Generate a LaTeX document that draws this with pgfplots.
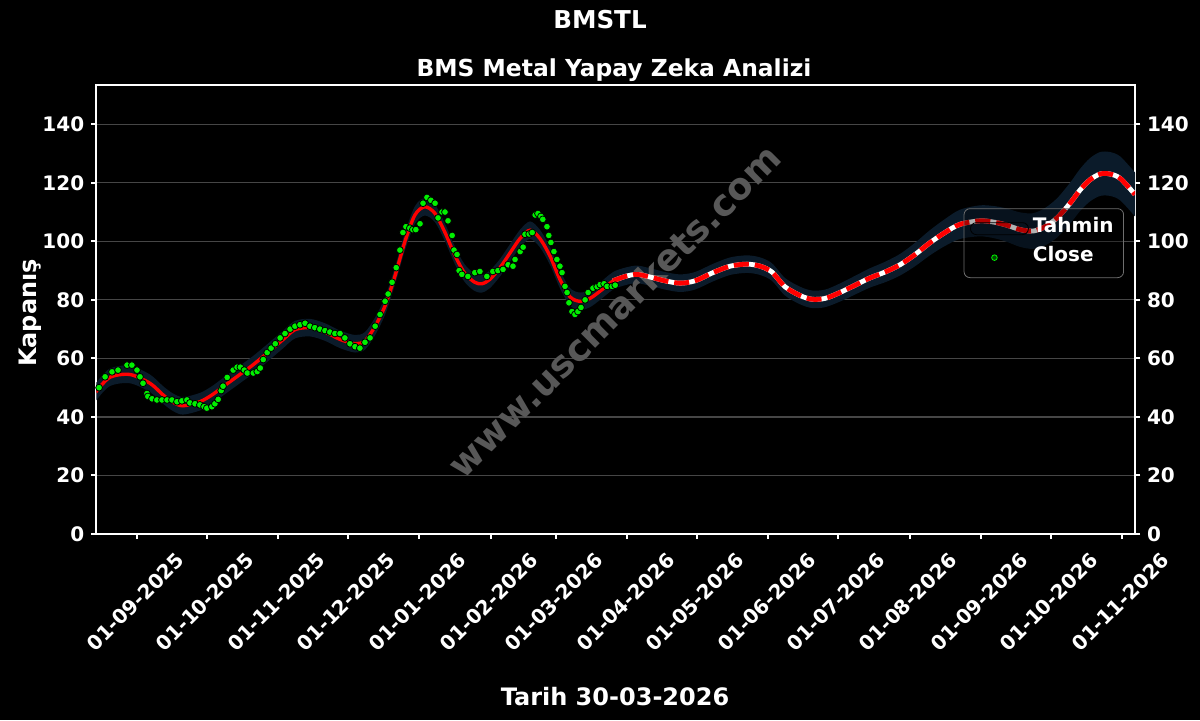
\documentclass[border=0pt]{standalone}
\usepackage{fontspec}
\setmainfont{DejaVu Sans}
\usepackage{pgfplots}
\usepackage{pgfplotstable}
\pgfplotsset{compat=1.18}
\usepgfplotslibrary{fillbetween}

\definecolor{bandblue}{RGB}{11,27,42}
\definecolor{closegreen}{RGB}{0,240,0}
\definecolor{gridgray}{RGB}{70,70,70}
\definecolor{wmgray}{RGB}{88,88,88}
\definecolor{leggray}{RGB}{110,110,110}

\pgfplotstableread{
x t lo hi
-17.9 48.5 45.5 51.5
-11.9 53.5 50.5 56.5
-3.2 54.5 51.5 57.5
5.5 51.5 48.5 54.5
11.2 47.5 44.5 50.5
15.5 45 42 48
19.8 43.8 40.8 46.8
27.1 45.2 42.2 48.2
32.3 47.5 44.5 50.5
37.1 50.3 47.3 53.3
44.4 54.5 51.5 57.5
49.6 57.5 54.5 60.5
54.4 60.6 57.6 63.6
58.7 63.5 60.5 66.5
63.0 66.4 63.4 69.4
68.2 69.8 66.8 72.8
74.7 70.5 67.5 73.5
81.2 69 66 72
87.7 66.5 63.5 69.5
94.2 65 62 68
98.5 66 63 69
102.9 71 68 74
107.2 78 75 81
111.4 88 85 91
115.8 100 97 103
120.1 109 106 112
124.4 111.8 108.8 114.8
128.8 109.5 106.5 112.5
133.1 103 100 106
137.5 95 92 98
141.7 89 86 92
146.0 86 83 89
149.1 85.5 82.5 88.5
152.5 87 84 90
156.9 91 88 94
161.2 96 93 99
165.6 101 98 104
169.9 103.8 100.8 106.8
174.1 101 98 104
178.5 95 92 98
182.8 87 84 90
187.2 81 78 84
191.5 79.5 76.5 82.5
195.8 80.5 77.5 83.5
200.2 83 80 86
205.8 86.5 83.5 89.5
211.0 88 85 91
216.1 88.7 85.7 91.7
221.8 87.8 84.8 90.8
228.3 86.5 83.5 89.5
234.8 85.7 82.7 88.7
241.2 86.5 83.5 89.5
249.0 89.3 86.3 92.3
256.4 91.5 88.5 94.5
263.7 92.2 89.2 95.2
269.4 91.5 88.5 94.5
274.5 89.5 86.5 92.5
280.1 84.5 81.5 87.5
286.6 81.5 78.5 84.5
291.8 80.2 77.2 83.2
297.5 80.5 77.5 83.5
303.9 82.5 79.4 85.6
310.4 85 81.8 88.2
316.9 87.5 84.2 90.8
323.4 89.5 86 93
329.9 92 88.3 95.7
336.4 95.5 91.5 99.5
342.8 99.5 95.2 103.8
349.3 103 98.4 107.6
355.8 105.8 100.8 110.8
364.5 107 101.7 112.3
370.9 106.5 101 112
376.1 105.5 99.8 111.2
381.8 104 98.1 109.9
387.4 103.5 97.4 109.6
392.6 105 98.6 111.4
397.8 108 101.3 114.7
403.4 113 106 120
407.7 117.5 110.3 124.7
412.0 121 113.6 128.4
416.4 123 115.5 130.5
420.7 123 115.5 130.5
425.1 121.5 114 129
431.5 116 108.5 123.5
}\tahmin

\pgfplotstableread{
x y
-17.9 47
-16.5 50
-13.9 53.7
-10.9 55.4
-8.3 56
-4.4 57.7
-2.3 57.7
-0.1 56
1.2 53.7
2.5 51.5
4.2 48
4.6 47
6.4 46.2
8.5 45.8
10.7 45.8
12.9 45.8
15.0 45.8
17.2 45.2
19.3 45.5
21.5 45.8
22.8 44.8
25.0 44.5
27.1 44.1
28.9 43.5
30.1 43
32.3 43.5
33.6 44.5
35.0 46
36.3 49
37.1 50.5
38.9 53.5
41.5 56
43.2 57
44.6 57
46.3 56
47.6 55
50.2 55
51.9 55.5
53.2 56.7
54.5 59.6
56.2 62
57.9 63.5
59.7 65
61.8 67
63.9 68.5
66.1 70
68.2 71
70.4 71.5
72.6 72
74.7 71
76.8 70.5
79.0 70
81.2 69.5
83.3 69
85.5 68.5
87.7 68.5
89.8 67
92.0 65
94.2 64
96.3 63.5
98.5 65.5
100.7 67
102.9 71
105.0 75
107.2 79.5
108.5 82
110.2 86
112.0 91
113.6 97
114.9 103
116.2 105
117.9 104.5
119.2 104
120.5 104
122.3 106
123.6 113
125.3 115
127.0 114
128.8 113
130.1 108
131.8 110
133.1 110
134.4 107
136.2 102
137.0 97
138.3 95.5
139.2 90
140.4 88.7
143.0 88
146.0 89.3
148.2 89.7
151.2 88
153.8 89.7
156.0 90
158.2 90.4
160.4 92
162.5 91.5
163.4 93.8
165.6 96.5
166.9 98
167.7 102.4
169.5 102.5
170.8 103
172.1 109
173.3 109.5
174.6 108.5
175.4 107.5
177.2 105
178.0 102
178.9 99.6
180.2 96.5
181.5 93.8
182.8 91.5
183.7 89.3
185.0 84.6
185.9 82.5
186.7 79
188.0 76
189.3 75
190.6 76
191.9 77.4
193.7 80
195.0 82.5
197.1 84
198.9 84.5
200.2 85.2
201.9 85.5
203.2 84.6
205.4 84.6
206.7 85
}\closetab

\pagecolor{black}
\begin{document}
\begin{tikzpicture}
\path (0,0) rectangle (600pt,360pt);

\node[rotate=45, text=wmgray, font=\bfseries\fontsize{18.4}{20}\selectfont] at (307pt,204.5pt) {www.uscmarkets.com};

\begin{axis}[
  at={(48.15pt,93pt)}, anchor=south west,
  scale only axis, width=519.35pt, height=224.35pt,
  xmin=-17.7, xmax=431.5, ymin=0, ymax=153.3,
  axis line style={white, line width=1pt},
  tick style={white, line width=1pt},
  tick align=outside, major tick length=2.5pt,
  xtick pos=bottom, ytick pos=both, yticklabel pos=left,
  xtick={0,30,61,91,122,153,181,212,242,273,303,334,365,395,426},
  xticklabels={01-09-2025,01-10-2025,01-11-2025,01-12-2025,01-01-2026,01-02-2026,01-03-2026,01-04-2026,01-05-2026,01-06-2026,01-07-2026,01-08-2026,01-09-2026,01-10-2026,01-11-2026},
  ytick={0,20,40,60,80,100,120,140},
  ymajorgrids, grid style={line width=0.6pt, gridgray},
  /pgf/number format/assume math mode=true,
  ticklabel style={font=\bfseries\fontsize{10}{12}\selectfont, text=white},
  xticklabel style={rotate=45, anchor=center, xshift=-23pt, yshift=-21.6pt},
  legend style={
    at={(0.9894,0.726)}, anchor=north east,
    fill=black, fill opacity=0.3, draw opacity=1, text opacity=1,
    draw=leggray, rounded corners=3pt,
    text=white, font=\bfseries\fontsize{10}{12}\selectfont,
    inner xsep=3pt, inner ysep=3.5pt, row sep=1.5pt,
    nodes={inner sep=2pt, text height=6.5pt, text depth=2.5pt},
  },
  legend cell align=left,
]
\addlegendimage{legend image code/.code={\path (0pt,-3pt) rectangle (29pt,3pt);}}
\addlegendentry{Tahmin}
\addlegendimage{legend image code/.code={\path (0pt,-3pt) rectangle (29pt,3pt); \fill[closegreen] (12pt,0pt) circle (1.4pt);}}
\addlegendentry{Close}

\addplot[name path=U, draw=none, smooth, forget plot] table[x=x, y=hi] {\tahmin};
\addplot[name path=L, draw=none, smooth, forget plot] table[x=x, y=lo] {\tahmin};
\addplot[fill=bandblue, draw=none, forget plot] fill between[of=U and L];

\addplot[red, line width=1.7pt, smooth, forget plot, restrict x to domain=-20:205.9] table[x=x, y=t] {\tahmin};
\addplot[white, line width=2.4pt, smooth, forget plot, restrict x to domain=205.7:440] table[x=x, y=t] {\tahmin};
\addplot[red, line width=2.4pt, smooth, dash pattern=on 7.5pt off 3pt, forget plot, restrict x to domain=205.7:440] table[x=x, y=t] {\tahmin};

\addplot[only marks, mark=*, mark size=1.7pt, mark options={draw=none, fill=closegreen}, forget plot] table[x=x, y=y] {\closetab};
\end{axis}

\begin{axis}[
  at={(48.15pt,93pt)}, anchor=south west,
  scale only axis, width=519.35pt, height=224.35pt,
  xmin=-17.7, xmax=431.5, ymin=0, ymax=153.3,
  axis line style={draw=none},
  hide x axis,
  tick style={white, line width=1pt},
  tick align=outside, major tick length=2.5pt,
  ytick pos=right, yticklabel pos=right,
  ytick={0,20,40,60,80,100,120,140},
  /pgf/number format/assume math mode=true,
  ticklabel style={font=\bfseries\fontsize{10}{12}\selectfont, text=white},
]
\addplot[draw=none] coordinates {(0,0)};
\end{axis}

\node[anchor=base, text=white, font=\bfseries\fontsize{12.3}{14}\selectfont] at (300pt,345.75pt) {BMSTL};
\node[anchor=base, text=white, font=\bfseries\fontsize{11.7}{14}\selectfont] at (307pt,322pt) {BMS Metal Yapay Zeka Analizi};
\node[anchor=base, text=white, font=\bfseries\fontsize{12}{14}\selectfont] at (307.5pt,7.5pt) {Tarih 30-03-2026};
\node[anchor=base, rotate=90, text=white, font=\bfseries\fontsize{12}{14}\selectfont] at (18pt,203.5pt) {Kapanış};
\pgfresetboundingbox
\useasboundingbox (0,0) rectangle (600pt,360pt);
\end{tikzpicture}
\end{document}
